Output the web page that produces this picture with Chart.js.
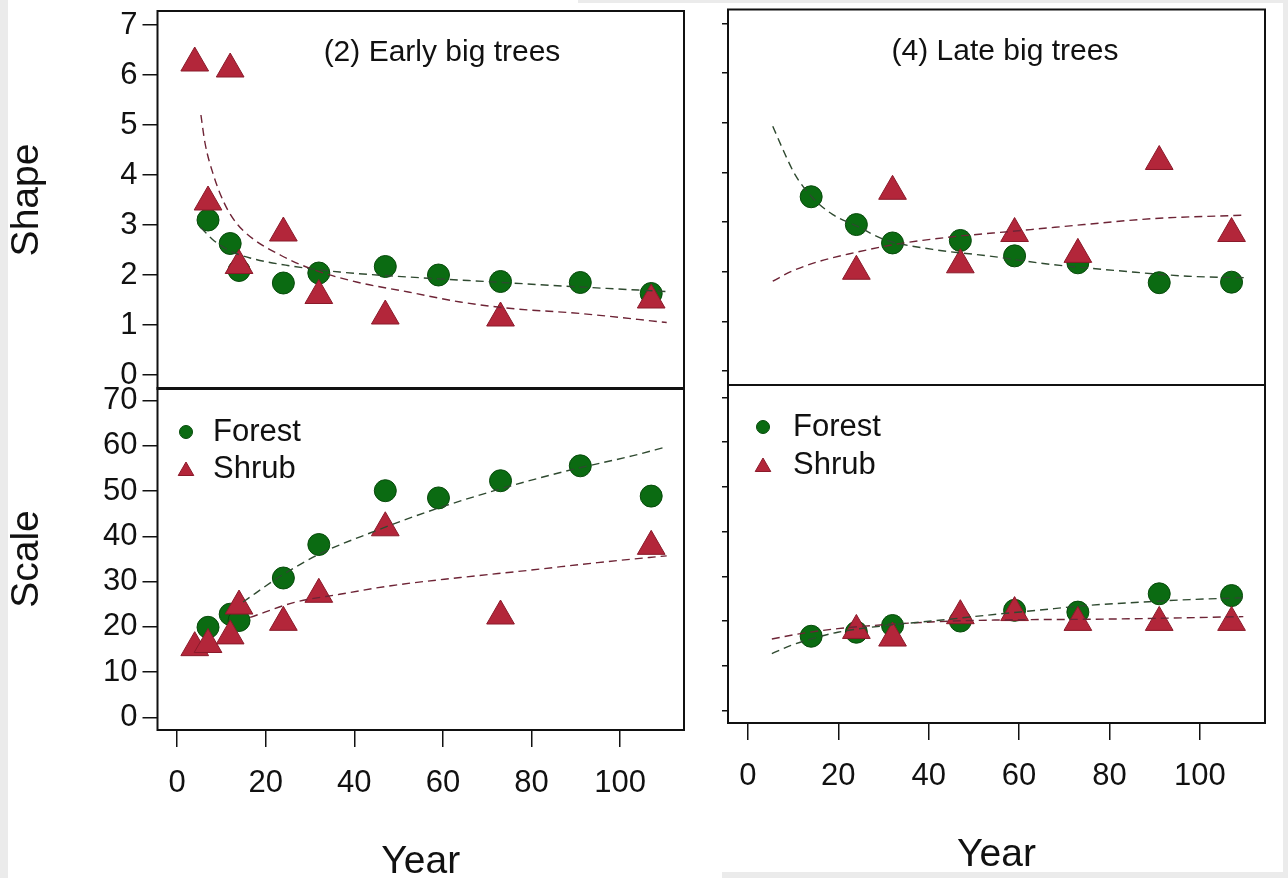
<!DOCTYPE html>
<html lang="en">
<head>
<meta charset="UTF-8">
<title>Shape and scale by year</title>
<script src="https://cdn.jsdelivr.net/npm/chart.js@4/dist/chart.umd.min.js"></script>
<style>
  html, body { margin: 0; padding: 0; }
  body { width: 1288px; height: 878px; overflow: hidden; background: #ebebeb; position: relative; }
  .sheet { position: absolute; background: #fff; }
  canvas { position: absolute; left: 0; top: 0; }
</style>
</head>
<body>
<div class="sheet" style="left:8px;top:0;width:570px;height:878px"></div>
<div class="sheet" style="left:578px;top:3px;width:144px;height:875px"></div>
<div class="sheet" style="left:722px;top:3px;width:561px;height:869px"></div>
<canvas id="lt" width="1288" height="900"></canvas>
<canvas id="lb" width="1288" height="900"></canvas>
<canvas id="rt" width="1288" height="900"></canvas>
<canvas id="rb" width="1288" height="900"></canvas>
<script>
// tick labels
const xTicks = [0, 20, 40, 60, 80, 100];
const shapeTicks = [0, 1, 2, 3, 4, 5, 6, 7];
const scaleTicks = [0, 10, 20, 30, 40, 50, 60, 70];

// (2) Early big trees
const earlyForestYears = [7, 12, 14, 24, 32, 47, 59, 73, 91, 107];
const earlyShrubYears = [4, 7, 12, 14, 24, 32, 47, 73, 107];
const earlyForestShape = [3.10, 2.63, 2.09, 1.84, 2.04, 2.17, 2.00, 1.87, 1.85, 1.63];
const earlyShrubShape = [6.24, 3.46, 6.12, 2.19, 2.84, 1.59, 1.18, 1.14, 1.50];
const earlyForestScale = [19.9, 22.8, 21.4, 30.8, 38.2, 50.1, 48.5, 52.3, 55.6, 48.9];
const earlyShrubScale = [15.4, 16.1, 18.0, 24.6, 21.0, 27.2, 41.9, 22.4, 37.8];

// fitted curves
const earlyForestShapeFitX = [5.4, 7.9, 11.8, 16.5, 25, 36.7, 52.2, 71.6, 91, 110.5];
const earlyForestShapeFitY = [2.95, 2.72, 2.49, 2.34, 2.19, 2.06, 1.96, 1.86, 1.76, 1.67];
const earlyShrubShapeFitX = [5.4, 6.3, 8.3, 10.6, 13.3, 17.2, 23.5, 30.4, 40.5, 52.2, 63.9, 75.5, 91, 110.5];
const earlyShrubShapeFitY = [5.2, 4.65, 3.98, 3.45, 3.05, 2.72, 2.39, 2.12, 1.86, 1.66, 1.46, 1.33, 1.23, 1.05];
const earlyForestScaleFitX = [14.9, 23.5, 32.8, 43.7, 56.1, 71.6, 87.2, 102.7, 110.5];
const earlyForestScaleFitY = [25.5, 31.3, 36.4, 40.8, 45.3, 50.1, 54.3, 57.8, 59.8];
const earlyShrubScaleFitX = [16.5, 26.5, 36.7, 48.3, 63.9, 79.4, 94.9, 110.5];
const earlyShrubScaleFitY = [22.1, 25.4, 27.2, 29.1, 30.9, 32.5, 34.2, 35.7];

// (4) Late big trees
const lateForestYears = [14, 24, 32, 47, 59, 73, 91, 107];
const lateShrubYears = [24, 32, 47, 59, 73, 91, 107];
const lateForestShape = [3.51, 2.95, 2.58, 2.63, 2.32, 2.18, 1.78, 1.79];
const lateShrubShape = [2.01, 3.62, 2.14, 2.77, 2.35, 4.22, 2.77];
const lateForestScale = [16.6, 17.5, 19.0, 20.0, 22.4, 22.0, 26.1, 25.7];
const lateShrubScale = [17.9, 16.2, 21.2, 21.9, 19.7, 19.7, 19.7];

const lateForestShapeFitX = [5.5, 8.1, 10.4, 14.1, 18.8, 24.1, 30.2, 40.9, 53.1, 66.8, 82, 97.3, 110.2];
const lateForestShapeFitY = [4.93, 4.39, 3.96, 3.51, 3.15, 2.92, 2.65, 2.45, 2.32, 2.15, 2.02, 1.91, 1.88];
const lateShrubShapeFitX = [5.5, 9.7, 15.8, 23.4, 32.5, 43.9, 59.2, 74.4, 89.6, 110.2];
const lateShrubShapeFitY = [1.81, 2.01, 2.21, 2.38, 2.55, 2.69, 2.82, 2.95, 3.07, 3.14];
const lateForestScaleFitX = [5.3, 9.4, 14, 19.9, 30.4, 41.6, 52.8, 64, 75.2, 86.5, 97.7, 109.6];
const lateForestScaleFitY = [12.7, 14.5, 16.0, 17.5, 19.0, 20.1, 21.3, 22.4, 23.5, 24.2, 24.8, 25.2];
const lateShrubScaleFitX = [5.3, 11.7, 19.9, 30.4, 45.3, 60.3, 75.2, 90.1, 109.6];
const lateShrubScaleFitY = [16.0, 17.2, 18.3, 19.2, 20.0, 20.3, 20.4, 20.6, 21.0];

const FONT = '"Liberation Sans", Arial, Helvetica, sans-serif';
const TEXT = '#111';
const forestFill = '#0b6b12', forestEdge = '#074a0b';
const shrubFill = '#b3263a', shrubEdge = '#8a1a2a';

function pts(xs, ys) {
    return xs.map((x, i) => ({ x: x, y: ys[i] }));
}

function forestPoints(xs, ys) {
    return { label: 'Forest', data: pts(xs, ys), pointStyle: 'circle', pointRadius: 11,
        backgroundColor: forestFill, borderColor: forestEdge, borderWidth: 1, order: 2 };
}
function shrubPoints(xs, ys) {
    return { label: 'Shrub', data: pts(xs, ys), pointStyle: 'triangle', pointRadius: 16,
        backgroundColor: shrubFill, borderColor: shrubEdge, borderWidth: 1, order: 1 };
}
function fitLine(xs, ys, color) {
    return { label: 'fit', data: pts(xs, ys), showLine: true, pointRadius: 0,
        borderColor: color, borderWidth: 1.4, borderDash: [8, 5],
        cubicInterpolationMode: 'monotone', fill: false, order: 0 };
}

// box round the plot, panel title and legend inside the plot
const panelDeco = {
    id: 'panelDeco',
    afterDraw(chart, args, opts) {
        const ctx = chart.ctx, a = chart.chartArea;
        ctx.save();
        ctx.strokeStyle = '#111';
        ctx.lineWidth = 2;
        ctx.strokeRect(a.left, a.top, a.right - a.left, a.bottom - a.top);
        ctx.fillStyle = TEXT;
        ctx.textBaseline = 'middle';
        if (opts.title) {
            ctx.font = '30px ' + FONT;
            ctx.textAlign = 'center';
            ctx.fillText(opts.title.text, opts.title.x, opts.title.y);
        }
        if (opts.legend) {
            const L = opts.legend;
            const items = chart.data.datasets.filter(d => d.label !== 'fit');
            items.forEach((d, i) => {
                const y = L.y + i * L.gap;
                ctx.fillStyle = d.backgroundColor;
                ctx.strokeStyle = d.borderColor;
                ctx.lineWidth = 1;
                Chart.helpers.drawPoint(ctx, { pointStyle: d.pointStyle, radius: d.pointStyle === 'triangle' ? 9 : 6.5,
                    rotation: 0, borderWidth: 1 }, L.marker, d.pointStyle === 'triangle' ? y + 2 : y);
                ctx.fillStyle = TEXT;
                ctx.font = '31px ' + FONT;
                ctx.textAlign = 'left';
                ctx.fillText(d.label, L.text, y);
            });
        }
        ctx.restore();
    }
};

function panel(id, p) {
    const H = 900;
    const xScale = p.xAxis ? {
        type: 'linear', min: -4.4, max: 114.4,
        afterBuildTicks: s => { s.ticks = xTicks.map(v => ({ value: v })); },
        afterFit: s => { s.height = H - p.area.bottom; s.paddingLeft = 0; s.paddingRight = 0; },
        ticks: { color: TEXT, font: { family: FONT, size: 31 }, padding: 18 },
        grid: { drawOnChartArea: false, drawTicks: true, tickLength: 17, color: '#111', lineWidth: 1.5 },
        border: { display: false },
        title: { display: true, text: 'Year', color: TEXT, font: { family: FONT, size: 39 },
            padding: { top: 0, bottom: p.yearPad } }
    } : { type: 'linear', min: -4.4, max: 114.4, display: false };

    const yScale = {
        type: 'linear', min: p.yMin, max: p.yMax,
        afterBuildTicks: s => { s.ticks = p.yTicks.map(v => ({ value: v })); },
        afterFit: s => { s.width = p.area.left; s.paddingTop = 0; s.paddingBottom = 0; },
        ticks: { display: p.yLabels, color: TEXT, font: { family: FONT, size: 31 }, padding: 5 },
        grid: { drawOnChartArea: false, drawTicks: true, tickLength: p.yLabels ? 15 : 6, color: '#111', lineWidth: 1.5 },
        border: { display: false },
        title: { display: !!p.yTitle, text: p.yTitle, color: TEXT, font: { family: FONT, size: 39 },
            padding: { top: 4, bottom: 0 } }
    };

    return new Chart(document.getElementById(id), {
        type: 'scatter',
        data: { datasets: p.datasets },
        options: {
            responsive: false,
            animation: false,
            devicePixelRatio: 1,
            events: [],
            layout: { autoPadding: false,
                padding: { left: 0, right: 1288 - p.area.right, top: p.area.top,
                    bottom: p.xAxis ? 0 : H - p.area.bottom } },
            scales: { x: xScale, y: yScale },
            plugins: {
                legend: { display: false },
                tooltip: { enabled: false },
                panelDeco: { title: p.title, legend: p.legend }
            }
        },
        plugins: [panelDeco]
    });
}

// top left: shape, early
panel('lt', {
    area: { left: 157.5, right: 684, top: 11, bottom: 389 },
    yMin: -0.28, yMax: 7.28, yTicks: shapeTicks, yTitle: 'Shape', yLabels: true, xAxis: false,
    title: { text: '(2) Early big trees', x: 442, y: 53 },
    datasets: [
        fitLine(earlyForestShapeFitX, earlyForestShapeFitY, '#2f4a30'),
        fitLine(earlyShrubShapeFitX, earlyShrubShapeFitY, '#6e2436'),
        forestPoints(earlyForestYears, earlyForestShape),
        shrubPoints(earlyShrubYears, earlyShrubShape)
    ]
});

// bottom left: scale, early
panel('lb', {
    area: { left: 157.5, right: 684, top: 388, bottom: 730 },
    yMin: -2.8, yMax: 72.8, yTicks: scaleTicks, yTitle: 'Scale', yLabels: true, xAxis: true, yearPad: 14.6,
    legend: { marker: 186, text: 213, y: 432, gap: 37 },
    datasets: [
        fitLine(earlyForestScaleFitX, earlyForestScaleFitY, '#2f4a30'),
        fitLine(earlyShrubScaleFitX, earlyShrubScaleFitY, '#6e2436'),
        forestPoints(earlyForestYears, earlyForestScale),
        shrubPoints(earlyShrubYears, earlyShrubScale)
    ]
});

// top right: shape, late
panel('rt', {
    area: { left: 728, right: 1265, top: 9.5, bottom: 385 },
    yMin: -0.28, yMax: 7.28, yTicks: shapeTicks, yTitle: '', yLabels: false, xAxis: false,
    title: { text: '(4) Late big trees', x: 1005, y: 52 },
    datasets: [
        fitLine(lateForestShapeFitX, lateForestShapeFitY, '#2f4a30'),
        fitLine(lateShrubShapeFitX, lateShrubShapeFitY, '#6e2436'),
        forestPoints(lateForestYears, lateForestShape),
        shrubPoints(lateShrubYears, lateShrubShape)
    ]
});

// bottom right: scale, late
panel('rb', {
    area: { left: 728, right: 1265, top: 385, bottom: 723 },
    yMin: -2.8, yMax: 72.8, yTicks: scaleTicks, yTitle: '', yLabels: false, xAxis: true, yearPad: 21.6,
    legend: { marker: 763, text: 793, y: 427, gap: 38 },
    datasets: [
        fitLine(lateForestScaleFitX, lateForestScaleFitY, '#2f4a30'),
        fitLine(lateShrubScaleFitX, lateShrubScaleFitY, '#6e2436'),
        forestPoints(lateForestYears, lateForestScale),
        shrubPoints(lateShrubYears, lateShrubScale)
    ]
});
</script>
</body>
</html>
